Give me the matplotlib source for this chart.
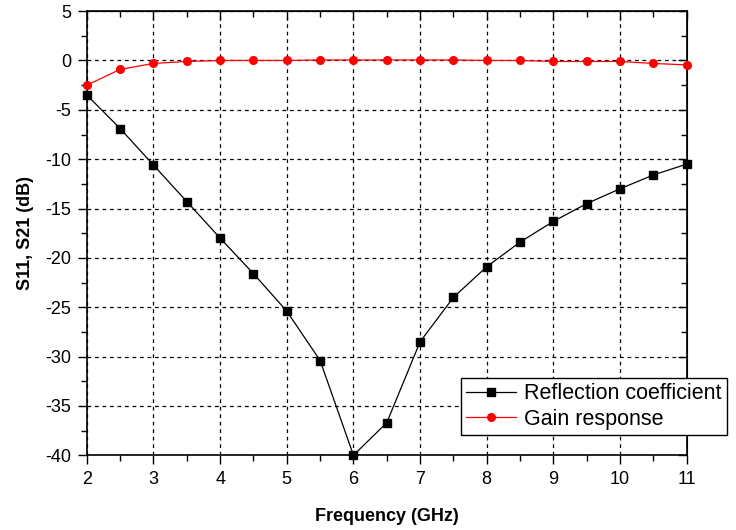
import numpy as np
import matplotlib
matplotlib.use("Agg")
import matplotlib.pyplot as plt
from matplotlib.ticker import MultipleLocator

plt.rcParams["font.family"] = ["Liberation Sans", "DejaVu Sans"]
plt.rcParams["axes.unicode_minus"] = False

# frecuencia [GHz]
freq = [2, 2.5, 3, 3.5, 4, 4.5, 5, 5.5, 6, 6.5, 7, 7.5, 8, 8.5, 9, 9.5, 10, 10.5, 11]
# S11 [dB]
reflexion = [-3.5, -6.9, -10.6, -14.3, -18.0, -21.6, -25.4, -30.4, -40.0, -36.7,
             -28.5, -24.0, -20.9, -18.4, -16.3, -14.5, -13.0, -11.6, -10.5]
# S21 [dB]
ganancia = [-2.5, -0.9, -0.3, -0.1, 0.0, 0.0, 0.0, 0.05, 0.05, 0.05,
            0.05, 0.05, 0.0, 0.0, -0.1, -0.1, -0.1, -0.3, -0.45]

fig = plt.figure(figsize=(7.36, 5.30), dpi=100)
ax = fig.add_axes([0.118, 0.141, 0.815, 0.838])

ax.plot(freq, reflexion, color="black", lw=0.9, marker="s", ms=5.5,
        label="Reflection coefficient", clip_on=False, zorder=3)
ax.plot(freq, ganancia, color="red", lw=0.9, marker="o", ms=5.5,
        label="Gain response", clip_on=False, zorder=3)

ax.set_xlim(2, 11)
ax.set_ylim(-40, 5)
ax.xaxis.set_major_locator(MultipleLocator(1))
ax.xaxis.set_minor_locator(MultipleLocator(0.5))
ax.yaxis.set_major_locator(MultipleLocator(5))
ax.yaxis.set_minor_locator(MultipleLocator(2.5))

ax.grid(True, which="major", color="black", linestyle=(0, (3, 3)), lw=0.9)
ax.tick_params(which="both", direction="out", labelsize=13, top=False,
               right=False, pad=5)
ax.tick_params(which="major", length=6.5, width=1)
ax.tick_params(which="minor", length=4, width=1)
# ticks espejo hacia adentro arriba y derecha
axt = ax.secondary_xaxis("top")
axt.xaxis.set_major_locator(MultipleLocator(1))
axt.xaxis.set_minor_locator(MultipleLocator(0.5))
axt.tick_params(which="both", direction="in", labeltop=False)
axt.tick_params(which="major", length=6.5, width=1)
axt.tick_params(which="minor", length=4, width=1)
axr = ax.secondary_yaxis("right")
axr.yaxis.set_major_locator(MultipleLocator(5))
axr.yaxis.set_minor_locator(MultipleLocator(2.5))
axr.tick_params(which="both", direction="in", labelright=False)
axr.tick_params(which="major", length=6.5, width=1)
axr.tick_params(which="minor", length=4, width=1)

for s in ax.spines.values():
    s.set_linewidth(1.2)

ax.set_xlabel("Frequency (GHz)", fontsize=13, fontweight="bold", labelpad=14)
ax.set_ylabel("S11, S21 (dB)", fontsize=13, fontweight="bold", labelpad=8)

leg = ax.legend(loc="upper left", bbox_to_anchor=(0.626, 0.287),
                bbox_transform=fig.transFigure, fontsize=15.5, frameon=True,
                fancybox=False, edgecolor="black", framealpha=1,
                handlelength=2.3, borderpad=0.25, labelspacing=0.2,
                handletextpad=0.4, borderaxespad=0)
leg.get_frame().set_linewidth(1)

fig.savefig("out.png", dpi=100)
